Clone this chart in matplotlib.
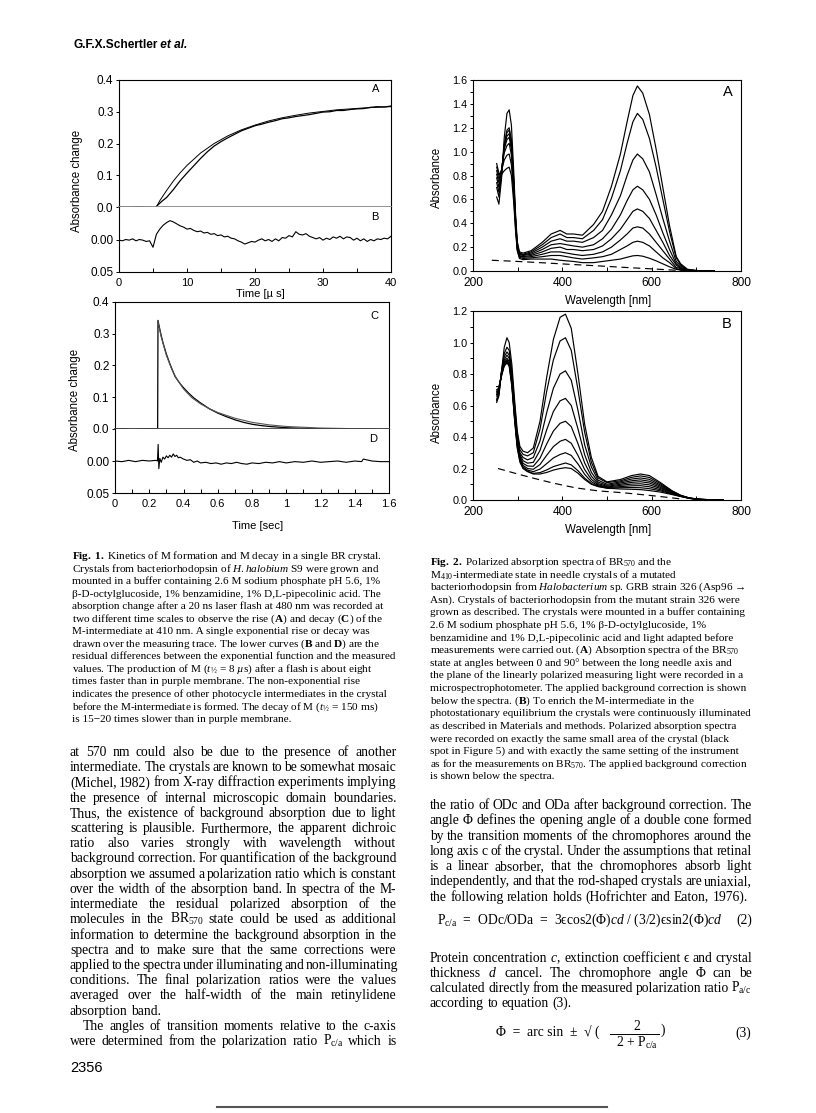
import numpy as np
import matplotlib
matplotlib.use("Agg")
import matplotlib.pyplot as plt
from matplotlib.lines import Line2D
from matplotlib.ticker import MultipleLocator, FuncFormatter, FormatStrFormatter

# ---------------- Données : Fig. 1, montée de M (A) et résidu (B) ----------------
temps_A = [0, 1, 2, 3, 4, 4.8, 5.1, 5.4, 5.8, 6.3, 7, 8, 9, 10, 11, 12, 13, 14, 15, 16,
           17, 18, 19, 20, 21, 22, 23, 24, 25, 26, 27, 28, 29, 30, 31, 32, 33, 34, 35, 36,
           37, 38, 39, 40]
mesure_A = [0.001, -0.001, 0.0, 0.001, -0.001, 0.0, -0.006, 0.0, 0.008, 0.018,
            0.03, 0.055, 0.083, 0.107, 0.13, 0.153, 0.174, 0.192, 0.206, 0.218,
            0.229, 0.240, 0.248, 0.256, 0.261, 0.267, 0.272, 0.278, 0.281, 0.285,
            0.288, 0.291, 0.295, 0.299, 0.300, 0.304, 0.304, 0.307, 0.309, 0.310,
            0.314, 0.316, 0.315, 0.318]
temps_fit_A = [5.5, 6, 7, 8, 9, 10, 12, 14, 16, 18, 20, 22, 24, 26, 28, 30, 32, 34, 36, 38, 40]
fit_A = [0.0, 0.02, 0.052, 0.082, 0.108, 0.131, 0.17, 0.2, 0.224, 0.243, 0.258, 0.271,
         0.281, 0.289, 0.296, 0.301, 0.306, 0.309, 0.312, 0.314, 0.316]
# résidu B, un point toutes les 0.5 µs de 0 à 40 µs
residu_B = [-0.001, -0.002, 0.000, -0.001, 0.001, -0.002, 0.000, -0.001, -0.003, -0.002,
            -0.012, 0.008, 0.016, 0.022, 0.026, 0.029, 0.027, 0.024, 0.021, 0.019,
            0.016, 0.017, 0.014, 0.012, 0.013, 0.010, 0.011, 0.008, 0.009, 0.006,
            0.007, 0.004, 0.005, 0.002, 0.001, -0.002, -0.004, -0.007, -0.005, -0.003,
            -0.004, -0.001, 0.001, -0.002, 0.000, -0.003, 0.001, -0.002, 0.003, 0.002,
            0.006, 0.004, 0.012, 0.008, 0.007, 0.009, 0.005, 0.003, 0.001, 0.003,
            -0.001, 0.002, 0.000, 0.004, 0.002, 0.005, 0.001, 0.004, 0.003, -0.001,
            0.002, -0.002, 0.001, -0.003, 0.000, -0.002, 0.001, 0.000, 0.002, 0.001,
            0.005]

# ---------------- Données : Fig. 1, déclin de M (C) et résidu (D) ----------------
temps_C = [0, 0.05, 0.1, 0.15, 0.2, 0.249, 0.251, 0.26, 0.27, 0.28, 0.30, 0.32, 0.35,
           0.38, 0.40, 0.43, 0.46, 0.50, 0.55, 0.60, 0.65, 0.70, 0.75, 0.80, 0.85, 0.90,
           1.0, 1.1, 1.2, 1.3, 1.4, 1.5, 1.6]
mesure_C = [0.0, 0.001, -0.001, 0.0, 0.001, 0.0, 0.342, 0.318, 0.294, 0.272, 0.236, 0.206,
            0.166, 0.143, 0.130, 0.113, 0.098, 0.082, 0.064, 0.050, 0.039, 0.029, 0.021,
            0.015, 0.011, 0.008, 0.004, 0.002, 0.001, 0.0, -0.001, -0.002, -0.002]
temps_fit_C = [0.25, 0.27, 0.30, 0.33, 0.36, 0.40, 0.45, 0.50, 0.55, 0.60, 0.70, 0.80,
               0.90, 1.0, 1.2, 1.4, 1.6]
fit_C = [0.34, 0.29, 0.232, 0.19, 0.158, 0.126, 0.098, 0.079, 0.064, 0.052, 0.034, 0.021,
         0.013, 0.008, 0.003, 0.001, 0.0]
temps_D = [0, 0.04, 0.08, 0.12, 0.16, 0.2, 0.24, 0.248, 0.252, 0.256, 0.262, 0.27, 0.28,
           0.29, 0.30, 0.31, 0.32, 0.33, 0.34, 0.35, 0.36, 0.37, 0.38, 0.40, 0.42, 0.44,
           0.46, 0.48, 0.50, 0.53, 0.56, 0.59, 0.62, 0.65, 0.68, 0.71, 0.74, 0.77, 0.80,
           0.84, 0.88, 0.92, 0.96, 1.0, 1.05, 1.1, 1.15, 1.2, 1.25, 1.3, 1.35, 1.4, 1.44,
           1.45, 1.5, 1.55, 1.6]
residu_D = [0.0, -0.001, 0.001, -0.001, 0.001, 0.0, 0.001, 0.0, 0.026, -0.012, 0.004,
            -0.002, 0.006, 0.003, 0.008, 0.005, 0.009, 0.006, 0.011, 0.007, 0.009, 0.005,
            0.006, 0.003, 0.001, 0.002, -0.002, 0.0, -0.003, -0.002, -0.004, -0.003,
            -0.005, -0.003, -0.004, -0.002, -0.004, -0.005, -0.003, -0.004, -0.002,
            -0.003, -0.001, -0.003, -0.001, -0.002, 0.0, -0.002, -0.001, 0.0, -0.002,
            0.0, -0.001, 0.003, 0.0, -0.001, -0.001]

# ---------------- Données : Fig. 2A, spectres BR570 ----------------
lambda_A = [253, 258, 264, 270, 276, 281, 286, 291, 295, 299, 304, 312, 330, 355, 375,
            395, 410, 425, 445, 470, 490, 510, 530, 545, 558, 568, 580, 595, 610, 625,
            640, 655, 665, 680, 700, 720, 740]
spectres_A = [
    [0.62, 0.56, 0.78, 1.12, 1.32, 1.35, 1.22, 0.85, 0.50, 0.25, 0.16, 0.15, 0.17, 0.24, 0.31,
     0.34, 0.31, 0.31, 0.30, 0.39, 0.50, 0.71, 0.98, 1.25, 1.47, 1.55, 1.49, 1.31, 1.02, 0.70,
     0.38, 0.12, 0.06, 0.015, 0.004, 0.001, 0.0],
    [0.70, 0.62, 0.80, 1.06, 1.18, 1.20, 1.10, 0.78, 0.46, 0.23, 0.15, 0.14, 0.16, 0.22, 0.28,
     0.31, 0.28, 0.28, 0.27, 0.34, 0.43, 0.61, 0.84, 1.07, 1.25, 1.32, 1.27, 1.11, 0.87, 0.60,
     0.33, 0.11, 0.05, 0.012, 0.004, 0.0, 0.0],
    [0.74, 0.66, 0.82, 1.05, 1.16, 1.18, 1.08, 0.76, 0.45, 0.22, 0.145, 0.135, 0.15, 0.20, 0.25,
     0.27, 0.25, 0.25, 0.24, 0.28, 0.34, 0.47, 0.63, 0.80, 0.93, 0.98, 0.94, 0.83, 0.64, 0.44,
     0.25, 0.08, 0.04, 0.009, 0.003, 0.0, 0.0],
    [0.78, 0.70, 0.84, 1.04, 1.13, 1.15, 1.05, 0.74, 0.44, 0.21, 0.14, 0.13, 0.14, 0.18, 0.22,
     0.23, 0.22, 0.21, 0.20, 0.22, 0.27, 0.35, 0.47, 0.59, 0.68, 0.71, 0.68, 0.60, 0.47, 0.32,
     0.18, 0.06, 0.03, 0.006, 0.002, 0.0, 0.0],
    [0.81, 0.74, 0.85, 1.02, 1.10, 1.12, 1.02, 0.72, 0.43, 0.20, 0.13, 0.12, 0.13, 0.16, 0.19,
     0.20, 0.18, 0.18, 0.17, 0.18, 0.21, 0.27, 0.35, 0.43, 0.50, 0.52, 0.50, 0.44, 0.34, 0.24,
     0.13, 0.05, 0.02, 0.005, 0.001, 0.0, 0.0],
    [0.84, 0.77, 0.85, 0.99, 1.05, 1.07, 0.97, 0.69, 0.41, 0.19, 0.125, 0.115, 0.12, 0.14, 0.16,
     0.16, 0.15, 0.14, 0.13, 0.14, 0.16, 0.20, 0.26, 0.31, 0.36, 0.37, 0.36, 0.31, 0.24, 0.17,
     0.10, 0.03, 0.02, 0.004, 0.001, 0.0, 0.0],
    [0.87, 0.80, 0.84, 0.93, 0.97, 0.98, 0.89, 0.64, 0.38, 0.18, 0.115, 0.105, 0.11, 0.12, 0.13,
     0.13, 0.12, 0.11, 0.10, 0.11, 0.12, 0.14, 0.18, 0.21, 0.24, 0.25, 0.24, 0.21, 0.16, 0.11,
     0.07, 0.02, 0.01, 0.002, 0.0, 0.0, 0.0],
    [0.90, 0.82, 0.81, 0.84, 0.86, 0.87, 0.80, 0.58, 0.35, 0.17, 0.105, 0.095, 0.10, 0.10, 0.10,
     0.09, 0.085, 0.08, 0.07, 0.07, 0.08, 0.09, 0.10, 0.115, 0.127, 0.13, 0.124, 0.107, 0.085,
     0.06, 0.035, 0.014, 0.007, 0.001, 0.0, 0.0, 0.0],
]
lambda_fond_A = [242, 300, 360, 420, 480, 540, 600, 660, 690]
fond_A = [0.09, 0.08, 0.068, 0.055, 0.043, 0.03, 0.018, 0.005, 0.0]

# ---------------- Données : Fig. 2B, spectres M410 ----------------
lambda_B = [253, 258, 264, 270, 276, 281, 287, 293, 299, 305, 312, 322, 335, 350, 365, 380,
            395, 407, 420, 435, 450, 465, 480, 500, 530, 555, 575, 595, 620, 645, 665, 685,
            710, 740, 760]
spectres_B = [
    [0.62, 0.66, 0.82, 0.97, 1.03, 1.00, 0.86, 0.64, 0.44, 0.34, 0.31, 0.30, 0.33, 0.50, 0.78,
     1.02, 1.16, 1.18, 1.09, 0.80, 0.48, 0.27, 0.15, 0.115, 0.13, 0.155, 0.165, 0.155, 0.11,
     0.06, 0.03, 0.012, 0.004, 0.001, 0.0],
    [0.63, 0.67, 0.82, 0.93, 0.97, 0.95, 0.82, 0.61, 0.42, 0.32, 0.29, 0.28, 0.30, 0.45, 0.69,
     0.89, 1.01, 1.03, 0.95, 0.70, 0.43, 0.24, 0.14, 0.11, 0.122, 0.144, 0.153, 0.143, 0.103,
     0.057, 0.029, 0.012, 0.004, 0.001, 0.0],
    [0.64, 0.68, 0.82, 0.91, 0.94, 0.92, 0.80, 0.59, 0.40, 0.30, 0.27, 0.255, 0.27, 0.375, 0.555,
     0.71, 0.80, 0.82, 0.76, 0.57, 0.35, 0.21, 0.126, 0.10, 0.115, 0.133, 0.140, 0.131, 0.095,
     0.054, 0.028, 0.012, 0.004, 0.001, 0.0],
    [0.66, 0.69, 0.81, 0.89, 0.92, 0.90, 0.78, 0.57, 0.38, 0.29, 0.25, 0.234, 0.239, 0.315, 0.446,
     0.562, 0.63, 0.645, 0.60, 0.452, 0.287, 0.176, 0.114, 0.093, 0.108, 0.122, 0.128, 0.119,
     0.088, 0.051, 0.027, 0.011, 0.004, 0.001, 0.0],
    [0.67, 0.70, 0.81, 0.88, 0.90, 0.88, 0.76, 0.55, 0.37, 0.28, 0.233, 0.216, 0.214, 0.265, 0.356,
     0.438, 0.487, 0.50, 0.466, 0.358, 0.235, 0.151, 0.104, 0.087, 0.10, 0.112, 0.116, 0.108,
     0.08, 0.048, 0.026, 0.011, 0.004, 0.0, 0.0],
    [0.68, 0.70, 0.80, 0.87, 0.89, 0.87, 0.75, 0.54, 0.36, 0.27, 0.22, 0.20, 0.195, 0.225, 0.284,
     0.339, 0.373, 0.385, 0.36, 0.283, 0.193, 0.131, 0.097, 0.082, 0.093, 0.101, 0.103, 0.096,
     0.073, 0.044, 0.025, 0.011, 0.003, 0.0, 0.0],
    [0.69, 0.71, 0.80, 0.86, 0.88, 0.86, 0.74, 0.53, 0.35, 0.26, 0.21, 0.19, 0.18, 0.196, 0.231,
     0.267, 0.289, 0.30, 0.283, 0.229, 0.163, 0.116, 0.091, 0.079, 0.085, 0.090, 0.091, 0.084,
     0.065, 0.041, 0.024, 0.011, 0.003, 0.0, 0.0],
    [0.70, 0.71, 0.79, 0.86, 0.88, 0.86, 0.73, 0.52, 0.34, 0.25, 0.203, 0.183, 0.169, 0.174, 0.191,
     0.212, 0.225, 0.235, 0.223, 0.186, 0.139, 0.104, 0.087, 0.076, 0.078, 0.079, 0.078, 0.072,
     0.058, 0.038, 0.023, 0.010, 0.003, 0.0, 0.0],
    [0.72, 0.72, 0.79, 0.85, 0.87, 0.85, 0.72, 0.51, 0.33, 0.24, 0.20, 0.18, 0.165, 0.165, 0.175,
     0.19, 0.20, 0.205, 0.20, 0.17, 0.13, 0.10, 0.085, 0.075, 0.07, 0.068, 0.066, 0.06, 0.05,
     0.035, 0.022, 0.01, 0.003, 0.0, 0.0],
]
lambda_fond_B = [256, 300, 340, 380, 430, 480, 536, 600, 641, 670]
fond_B = [0.20, 0.165, 0.135, 0.107, 0.077, 0.058, 0.046, 0.028, 0.015, 0.005]

# ---------------- Textes de la page ----------------
entete = "G.F.X.Schertler"
entete_italique = " et al."
numero_page = "2356"

legende_1 = [
    r"$\mathbf{Fig.\ 1.}$ Kinetics of M formation and M decay in a single BR crystal.",
    r"Crystals from bacteriorhodopsin of $\mathit{H.halobium}$ S9 were grown and",
    "mounted in a buffer containing 2.6 M sodium phosphate pH 5.6, 1%",
    "β-D-octylglucoside, 1% benzamidine, 1% D,L-pipecolinic acid. The",
    "absorption change after a 20 ns laser flash at 480 nm was recorded at",
    r"two different time scales to observe the rise ($\mathbf{A}$) and decay ($\mathbf{C}$) of the",
    "M-intermediate at 410 nm. A single exponential rise or decay was",
    r"drawn over the measuring trace. The lower curves ($\mathbf{B}$ and $\mathbf{D}$) are the",
    "residual differences between the exponential function and the measured",
    r"values. The production of M ($\mathit{t}_{½}$ = 8 $\mathit{µ}$s) after a flash is about eight",
    "times faster than in purple membrane. The non-exponential rise",
    "indicates the presence of other photocycle intermediates in the crystal",
    r"before the M-intermediate is formed. The decay of M ($\mathit{t}_{½}$ = 150 ms)",
    "is 15−20 times slower than in purple membrane.",
]

legende_2 = [
    r"$\mathbf{Fig.\ 2.}$ Polarized absorption spectra of BR$_{570}$ and the",
    r"M$_{410}$-intermediate state in needle crystals of a mutated",
    r"bacteriorhodopsin from $\mathit{Halobacterium}$ sp. GRB strain 326 (Asp96 →",
    "Asn). Crystals of bacteriorhodopsin from the mutant strain 326 were",
    "grown as described. The crystals were mounted in a buffer containing",
    "2.6 M sodium phosphate pH 5.6, 1% β-D-octylglucoside, 1%",
    "benzamidine and 1% D,L-pipecolinic acid and light adapted before",
    r"measurements were carried out. ($\mathbf{A}$) Absorption spectra of the BR$_{570}$",
    "state at angles between 0 and 90° between the long needle axis and",
    "the plane of the linearly polarized measuring light were recorded in a",
    "microspectrophotometer. The applied background correction is shown",
    r"below the spectra. ($\mathbf{B}$) To enrich the M-intermediate in the",
    "photostationary equilibrium the crystals were continuously illuminated",
    "as described in Materials and methods. Polarized absorption spectra",
    "were recorded on exactly the same small area of the crystal (black",
    "spot in Figure 5) and with exactly the same setting of the instrument",
    r"as for the measurements on BR$_{570}$. The applied background correction",
    "is shown below the spectra.",
]

corps_gauche_1 = [
    "at 570 nm could also be due to the presence of another",
    "intermediate. The crystals are known to be somewhat mosaic",
    "(Michel, 1982) from X-ray diffraction experiments implying",
    "the presence of internal microscopic domain boundaries.",
    "Thus, the existence of background absorption due to light",
    "scattering is plausible. Furthermore, the apparent dichroic",
    "ratio also varies strongly with wavelength without",
    "background correction. For quantification of the background",
    "absorption we assumed a polarization ratio which is constant",
    "over the width of the absorption band. In spectra of the M-",
    "intermediate the residual polarized absorption of the",
    r"molecules in the BR$_{570}$ state could be used as additional",
    "information to determine the background absorption in the",
    "spectra and to make sure that the same corrections were",
    "applied to the spectra under illuminating and non-illuminating",
    "conditions. The final polarization ratios were the values",
    "averaged over the half-width of the main retinylidene",
    "absorption band.",
]
corps_gauche_2 = [
    "The angles of transition moments relative to the c-axis",
    r"were determined from the polarization ratio P$_{c/a}$ which is",
]
corps_droit_1 = [
    "the ratio of ODc and ODa after background correction. The",
    "angle Φ defines the opening angle of a double cone formed",
    "by the transition moments of the chromophores around the",
    "long axis c of the crystal. Under the assumptions that retinal",
    "is a linear absorber, that the chromophores absorb light",
    "independently, and that the rod-shaped crystals are uniaxial,",
    "the following relation holds (Hofrichter and Eaton, 1976).",
]
corps_droit_2 = [
    r"Protein concentration $\mathit{c}$, extinction coefficient ϵ and crystal",
    r"thickness $\mathit{d}$ cancel. The chromophore angle Φ can be",
    r"calculated directly from the measured polarization ratio P$_{a/c}$",
    "according to equation (3).",
]
equation_2 = r"P$_{c/a}$  =  ODc/ODa  =  3ϵcos2(Φ)$\mathit{cd}$ / (3/2)ϵsin2(Φ)$\mathit{cd}$"
equation_3_gauche = "Φ  =  arc sin  ±  √ ("
equation_3_num = "2"
equation_3_den = r"2 + P$_{c/a}$"

# ---------------- Mise en page ----------------
L, H = 816, 1113
plt.rcParams["font.family"] = ["Liberation Sans", "DejaVu Sans"]
plt.rcParams["mathtext.fontset"] = "custom"
plt.rcParams["mathtext.rm"] = "Liberation Serif"
plt.rcParams["mathtext.it"] = "Liberation Serif:italic"
plt.rcParams["mathtext.bf"] = "Liberation Serif:bold"
plt.rcParams["mathtext.default"] = "regular"

SERIF = ["Liberation Serif", "DejaVu Serif"]
T_CORPS = 9.8
T_LEG = 8.1

fig = plt.figure(figsize=(L / 100, H / 100), dpi=100)
fig.patch.set_facecolor("white")
rendu = fig.canvas.get_renderer()


def zone(g, h, d, b):
    # axes placées en pixels de la page
    return fig.add_axes([g / L, 1 - b / H, (d - g) / L, (b - h) / H])


def texte(x, y, s, **kw):
    return fig.text(x / L, 1 - y / H, s, **kw)


def ligne_justifiee(s, x0, x1, y, taille, justifier=True):
    mots = s.split(" ")
    objets = [texte(0, y, m, fontsize=taille, family=SERIF, va="baseline", ha="left") for m in mots]
    largeurs = [o.get_window_extent(rendu).width for o in objets]
    espace = taille * 0.25 * 100 / 72
    if justifier and len(mots) > 1:
        espace = max(1.5, (x1 - x0 - sum(largeurs)) / (len(mots) - 1))
    x = x0
    for o, l in zip(objets, largeurs):
        o.set_x(x / L)
        x += l + espace


def bloc(lignes, x0, x1, y0, pas, taille, fin_justifiee=False, retrait=0):
    for i, s in enumerate(lignes):
        derniere = i == len(lignes) - 1
        ligne_justifiee(s, x0 + (retrait if i == 0 else 0), x1, y0 + i * pas + 4, taille,
                        justifier=(not derniere) or fin_justifiee)


def legende(lignes, x0, y0, pas, taille):
    for i, s in enumerate(lignes):
        texte(x0, y0 + i * pas + 3.3, s, fontsize=taille, family=SERIF, va="baseline", ha="left")


def panneau_cinetique(g, d, h, m, b, xmax, pas_maj, pas_min, couleur_zero):
    haut = zone(g, h, d, m)
    bas = zone(g, m, d, b)
    for ax in (haut, bas):
        ax.set_xlim(0, xmax)
        for s in ax.spines.values():
            s.set_linewidth(0.8)
        ax.tick_params(axis="y", direction="out", length=2.5, width=0.7, pad=1.5, labelsize=8.5)
    haut.set_ylim(0, 0.4)
    haut.set_yticks([0, 0.1, 0.2, 0.3, 0.4])
    haut.yaxis.set_major_formatter(FormatStrFormatter("%.1f"))
    haut.tick_params(axis="x", bottom=False, labelbottom=False)
    haut.spines["bottom"].set_color(couleur_zero)
    haut.spines["bottom"].set_linewidth(1.3)
    bas.spines["top"].set_visible(False)
    bas.set_ylim(-0.05, 0.05)
    bas.set_yticks([-0.05, 0.0])
    bas.set_yticklabels(["0.05", "0.00"])
    bas.xaxis.set_major_locator(MultipleLocator(pas_maj))
    bas.xaxis.set_minor_locator(MultipleLocator(pas_min))
    bas.xaxis.set_major_formatter(FuncFormatter(lambda v, p: "%g" % round(v, 2)))
    bas.tick_params(axis="x", which="both", direction="in", length=3, width=0.7, pad=4, labelsize=8)
    return haut, bas


def panneau_spectre(h, b, ymax):
    ax = zone(473, h, 741, b)
    ax.set_xlim(200, 800)
    ax.set_ylim(0, ymax)
    for s in ax.spines.values():
        s.set_linewidth(0.8)
    ax.xaxis.set_major_locator(MultipleLocator(200))
    ax.xaxis.set_minor_locator(MultipleLocator(100))
    ax.yaxis.set_major_locator(MultipleLocator(0.2))
    ax.yaxis.set_minor_locator(MultipleLocator(0.1))
    ax.yaxis.set_major_formatter(FormatStrFormatter("%.1f"))
    ax.tick_params(axis="y", which="both", direction="out", length=2.5, width=0.7, pad=1.5, labelsize=7.8)
    ax.tick_params(axis="x", which="both", direction="in", length=3, width=0.7, pad=4.5, labelsize=8.6)
    return ax


# ----- Fig. 1 A/B -----
hA, bB = panneau_cinetique(119, 391, 80, 207, 272, 40, 10, 5, "#8a8a8a")
hA.plot(temps_A, mesure_A, color="black", lw=0.9)
hA.plot(temps_fit_A, fit_A, color="black", lw=0.7)
bB.plot(np.linspace(0, 40, len(residu_B)), residu_B, color="black", lw=0.8)
texte(376, 89, "A", fontsize=8, ha="center", va="center")
texte(375, 217, "B", fontsize=8, ha="center", va="center")
texte(260, 294, "Time [µ s]", fontsize=8, ha="center", va="center")
texte(77, 181, "Absorbance change", fontsize=8.3, rotation=90, ha="center", va="center")

# ----- Fig. 1 C/D -----
hC, bD = panneau_cinetique(115, 389, 302, 429, 493, 1.6, 0.2, 0.1, "#444444")
hC.plot(temps_C, mesure_C, color="black", lw=0.9)
hC.plot(temps_fit_C, fit_C, color="#555555", lw=0.8)
bD.plot(temps_D, residu_D, color="black", lw=0.8)
texte(374, 316, "C", fontsize=8, ha="center", va="center")
texte(373, 439, "D", fontsize=8, ha="center", va="center")
texte(258, 526, "Time [sec]", fontsize=8, ha="center", va="center")
texte(75, 400, "Absorbance change", fontsize=8.3, rotation=90, ha="center", va="center")

# ----- Fig. 2 A -----
axA = panneau_spectre(80, 271, 1.6)
for y in spectres_A:
    axA.plot(lambda_A, y, color="black", lw=0.85)
axA.plot(lambda_fond_A, fond_A, color="black", lw=0.85, dashes=(6, 4))
texte(728, 92, "A", fontsize=10.5, ha="center", va="center")
texte(608, 301, "Wavelength [nm]", fontsize=8.3, ha="center", va="center")
texte(437, 177, "Absorbance", fontsize=8.3, rotation=90, ha="center", va="center")

# ----- Fig. 2 B -----
axB = panneau_spectre(311, 500, 1.2)
for y in spectres_B:
    axB.plot(lambda_B, y, color="black", lw=0.85)
axB.plot(lambda_fond_B, fond_B, color="black", lw=0.85, dashes=(6, 4))
texte(727, 324, "B", fontsize=10.5, ha="center", va="center")
texte(608, 530, "Wavelength [nm]", fontsize=8.3, ha="center", va="center")
texte(437, 412, "Absorbance", fontsize=8.3, rotation=90, ha="center", va="center")

# ----- En-tête et numéro de page -----
t = texte(73, 45, entete, fontsize=8.6, fontweight="bold", va="center", ha="left")
larg = t.get_window_extent(rendu).width
texte(73 + larg, 45, entete_italique, fontsize=8.6, fontweight="bold", style="italic", va="center", ha="left")
texte(70, 1068, numero_page, fontsize=10.5, va="center", ha="left")

# ----- Légendes -----
legende(legende_1, 72, 556, 12.5, T_LEG)
legende(legende_2, 430, 561.7, 12.6, T_LEG)

# ----- Texte courant -----
bloc(corps_gauche_1, 70, 396.5, 752, 15.21, T_CORPS)
bloc(corps_gauche_2, 70, 396.5, 752 + 18 * 15.21, 15.21, T_CORPS, fin_justifiee=True, retrait=13)
bloc(corps_droit_1, 430, 752, 805, 15.28, T_CORPS)
bloc(corps_droit_2, 430, 752, 958.3, 15.0, T_CORPS)

# équation (2)
texte(437, 924, equation_2, fontsize=T_CORPS, family=SERIF, va="baseline", ha="left")
texte(752, 924, "(2)", fontsize=T_CORPS, family=SERIF, va="baseline", ha="right")
# équation (3)
texte(496, 1037, equation_3_gauche, fontsize=T_CORPS, family=SERIF, va="baseline", ha="left")
texte(637, 1026, equation_3_num, fontsize=T_CORPS, family=SERIF, va="center", ha="center")
texte(637, 1043, equation_3_den, fontsize=T_CORPS, family=SERIF, va="center", ha="center")
fig.add_artist(Line2D([610 / L, 659 / L], [1 - 1034 / H, 1 - 1034 / H], color="black", lw=0.7))
texte(661, 1030, ")", fontsize=T_CORPS, family=SERIF, va="center", ha="left")
texte(751, 1033, "(3)", fontsize=T_CORPS, family=SERIF, va="center", ha="right")

# trait du bord de scan
fig.add_artist(Line2D([217 / L, 607 / L], [1 - 1107 / H, 1 - 1107 / H], color="#555555", lw=1.5))

fig.savefig("out.png", dpi=100, facecolor="white")
